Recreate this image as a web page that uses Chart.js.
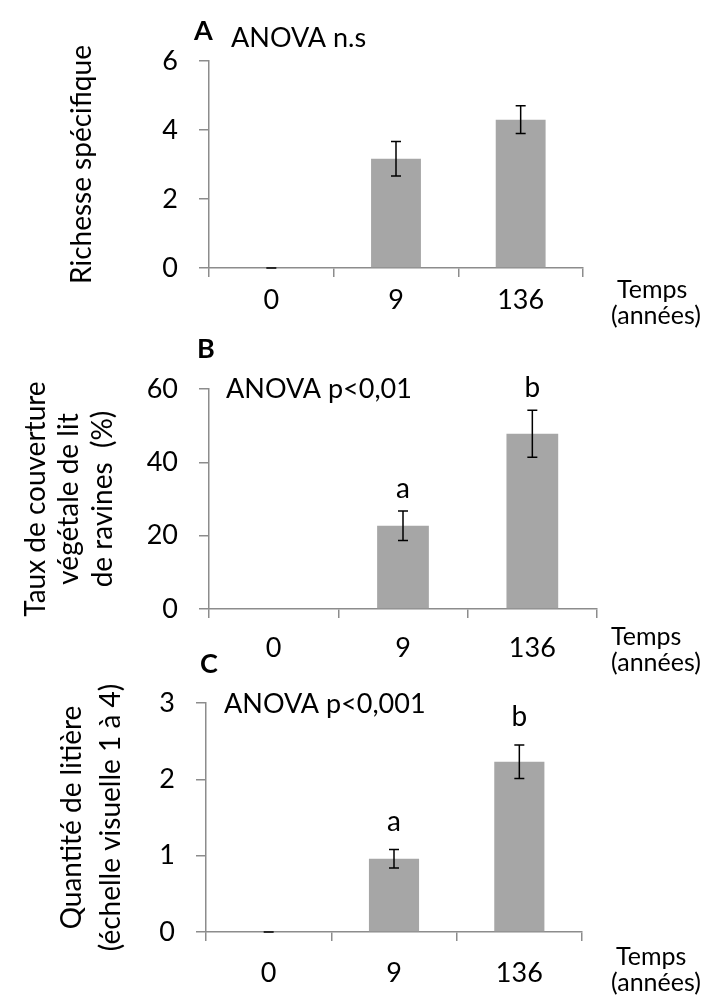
<!DOCTYPE html>
<html>
<head>
<meta charset="utf-8">
<script src="https://cdn.jsdelivr.net/npm/chart.js@4/dist/chart.umd.min.js"></script>
<style>
  body { margin: 0; background: #fff; }
  #wrap { position: relative; width: 716px; height: 1007px; }
  canvas { position: absolute; left: 0; top: 0; }
</style>
</head>
<body>
<div id="wrap">
  <canvas id="chartA" width="716" height="1007"></canvas>
  <canvas id="chartB" width="716" height="1007"></canvas>
  <canvas id="chartC" width="716" height="1007"></canvas>
</div>
<script>
// data
var categories = ["0", "9", "136"];

var richesse = [0, 3.17, 4.3];
var richesseErr = [0, 0.5, 0.4];

var couverture = [0, 22.7, 47.8];
var couvertureErr = [null, 4, 6.4];
var lettresB = ["", "a", "b"];

var litiere = [0, 0.96, 2.23];
var litiereErr = [0, 0.12, 0.22];
var lettresC = ["", "a", "b"];

var FONT = "Lato, 'Open Sans', sans-serif";
var axisGray = "#8c8c8c";
var barGray = "#a6a6a6";

// draws error bars, letters and free text for one panel
var extras = {
    id: "extras",
    afterDatasetsDraw: function(chart, args, opts) {
        var ctx = chart.ctx;
        var xs = chart.scales.x, ys = chart.scales.y;
        var vals = chart.data.datasets[0].data;
        ctx.save();
        ctx.strokeStyle = "#000";
        ctx.lineWidth = 1.5;
        ctx.fillStyle = "#000";
        for (var i = 0; i < vals.length; i++) {
            var e = opts.err[i];
            if (e === null || e === undefined) continue;
            var x = xs.getPixelForValue(i);
            var top = ys.getPixelForValue(vals[i] + e);
            var bot = ys.getPixelForValue(vals[i] - e);
            ctx.beginPath();
            ctx.moveTo(x, top); ctx.lineTo(x, bot);
            ctx.moveTo(x - 5, top); ctx.lineTo(x + 5, top);
            ctx.moveTo(x - 5, bot); ctx.lineTo(x + 5, bot);
            ctx.stroke();
            if (opts.letters && opts.letters[i]) {
                ctx.font = "28px " + FONT;
                ctx.textAlign = "center";
                ctx.textBaseline = "middle";
                ctx.fillText(opts.letters[i], x, top - opts.letterGap);
            }
        }
        opts.texts.forEach(function(t) {
            ctx.font = (t.bold ? "bold " : "") + t.size + "px " + FONT;
            ctx.textAlign = "left";
            ctx.textBaseline = "middle";
            ctx.fillText(t.text, t.x, t.y);
        });
        ctx.restore();
    }
};

function makePanel(id, p) {
    return new Chart(document.getElementById(id), {
        type: "bar",
        data: {
            labels: categories,
            datasets: [{
                data: p.values,
                backgroundColor: barGray,
                barPercentage: 0.4,
                categoryPercentage: 1
            }]
        },
        options: {
            responsive: false,
            animation: false,
            events: [],
            layout: {
                padding: { left: 0, top: p.top, right: 716 - p.right, bottom: 1007 - p.bottom - p.xHeight }
            },
            plugins: {
                legend: { display: false },
                tooltip: { enabled: false },
                extras: { err: p.err, letters: p.letters, letterGap: p.letterGap, texts: p.texts }
            },
            scales: {
                x: {
                    grid: { offset: true, drawOnChartArea: false, tickLength: 9, color: axisGray, lineWidth: 1.5 },
                    border: { color: axisGray, width: 1.5 },
                    ticks: { color: "#000", font: { family: FONT, size: 27 }, padding: p.xPad },
                    afterFit: function(s) { s.height = p.xHeight; }
                },
                y: {
                    min: 0, max: p.max,
                    grid: { drawOnChartArea: false, tickLength: 10, color: axisGray, lineWidth: 1.5 },
                    border: { color: axisGray, width: 1.5 },
                    ticks: { stepSize: p.step, color: "#000", font: { family: FONT, size: 27 }, padding: 21 },
                    title: {
                        display: true, text: p.title, color: "#000",
                        font: { family: FONT, size: 28, lineHeight: p.titleLH },
                        padding: { top: p.titlePad, bottom: 0 }
                    },
                    afterFit: function(s) { s.width = p.left; }
                }
            }
        },
        plugins: [extras]
    });
}

makePanel("chartA", {
    values: richesse, err: richesseErr, letters: null, letterGap: 0,
    left: 209, right: 583, top: 61, bottom: 268, xHeight: 60, xPad: 7,
    max: 6, step: 2,
    title: "Richesse spécifique", titleLH: 1.2, titlePad: 65,
    texts: [
        { text: "A", x: 194, y: 31, size: 27, bold: true },
        { text: "ANOVA n.s", x: 231, y: 38, size: 27 },
        { text: "Temps", x: 617, y: 290, size: 25 },
        { text: "(années)", x: 611, y: 316, size: 25 }
    ]
});

makePanel("chartB", {
    values: couverture, err: couvertureErr, letters: lettresB, letterGap: 22,
    left: 209, right: 597, top: 389, bottom: 609, xHeight: 60, xPad: 14,
    max: 60, step: 20,
    title: ["Taux de couverture", "végétale de lit", "de ravines  (%)"], titleLH: 1.2, titlePad: 19,
    texts: [
        { text: "B", x: 197, y: 349, size: 27, bold: true },
        { text: "ANOVA p<0,01", x: 226, y: 389, size: 27 },
        { text: "Temps", x: 611, y: 637, size: 25 },
        { text: "(années)", x: 611, y: 663, size: 25 }
    ]
});

makePanel("chartC", {
    values: litiere, err: litiereErr, letters: lettresC, letterGap: 28,
    left: 206, right: 582, top: 703, bottom: 932, xHeight: 60, xPad: 16,
    max: 3, step: 1,
    title: ["Quantité de litière", "(échelle visuelle 1 à 4)"], titleLH: 1.39, titlePad: 53,
    texts: [
        { text: "C", x: 200, y: 664, size: 27, bold: true },
        { text: "ANOVA p<0,001", x: 224, y: 704, size: 27 },
        { text: "Temps", x: 616, y: 957, size: 25 },
        { text: "(années)", x: 611, y: 983, size: 25 }
    ]
});
</script>
</body>
</html>
